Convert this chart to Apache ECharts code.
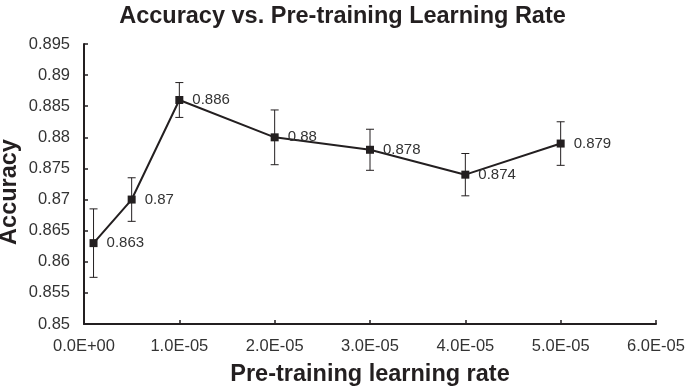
<!DOCTYPE html>
<html>
<head>
<meta charset="UTF-8">
<title>Accuracy vs. Pre-training Learning Rate</title>
<script src="https://cdn.jsdelivr.net/npm/echarts@6/dist/echarts.min.js"></script>
<style>
  html, body { margin: 0; padding: 0; background: #fff; }
  #main { width: 685px; height: 387px; }
</style>
</head>
<body>
<div id="main"></div>
<script>
// learning rates, accuracy and error bar half-widths
const rates = [1e-6, 5e-6, 1e-5, 2e-5, 3e-5, 4e-5, 5e-5];
const accuracy = [0.863, 0.87, 0.886, 0.88, 0.878, 0.874, 0.879];
const errors = [0.0055, 0.0035, 0.0028, 0.0044, 0.0033, 0.0034, 0.0035];

const ink = '#231f20';
const font = 'Liberation Sans, Arial, sans-serif';

function sci(v) {
  if (v === 0) return '0.0E+00';
  const e = Math.floor(Math.log10(Math.abs(v)) + 1e-9);
  const m = v / Math.pow(10, e);
  const sign = e < 0 ? '-' : '+';
  const ee = String(Math.abs(e)).padStart(2, '0');
  return m.toFixed(1) + 'E' + sign + ee;
}

const chart = echarts.init(document.getElementById('main'));

chart.setOption({
  backgroundColor: '#fff',
  animation: false,
  title: {
    text: 'Accuracy vs. Pre-training Learning Rate',
    left: 'center',
    top: 0,
    textStyle: { fontFamily: font, fontSize: 23.5, fontWeight: 'bold', color: ink }
  },
  grid: { left: 84, right: 29, top: 44, bottom: 63, outerBoundsMode: 'none' },
  xAxis: {
    type: 'value',
    min: 0,
    max: 6e-5,
    interval: 1e-5,
    name: 'Pre-training learning rate',
    nameLocation: 'middle',
    nameGap: 39,
    nameMoveOverlap: false,
    nameTextStyle: { fontFamily: font, fontSize: 23.5, fontWeight: 'bold', color: ink },
    axisLine: { show: true, lineStyle: { color: ink, width: 2 } },
    axisTick: { show: true, inside: true, length: 4, lineStyle: { color: ink, width: 1.5 } },
    axisLabel: { formatter: sci, fontFamily: font, fontSize: 16.5, color: '#333', margin: 14 },
    splitLine: { show: false }
  },
  yAxis: {
    type: 'value',
    min: 0.85,
    max: 0.895,
    interval: 0.005,
    name: 'Accuracy',
    nameLocation: 'middle',
    nameGap: 62,
    nameMoveOverlap: false,
    nameTextStyle: {
      fontFamily: font, fontSize: 23.5, fontWeight: 'bold', color: ink,
      padding: [0, 16, 0, 0]
    },
    axisLine: { show: true, lineStyle: { color: ink, width: 2 } },
    axisTick: { show: true, inside: true, length: 4, lineStyle: { color: ink, width: 1.5 } },
    axisLabel: {
      formatter: v => String(parseFloat(v.toFixed(3))),
      fontFamily: font, fontSize: 16.5, color: '#333', margin: 14
    },
    splitLine: { show: false }
  },
  series: [
    {
      type: 'custom',
      data: rates.map((r, i) => [r, accuracy[i] - errors[i], accuracy[i] + errors[i]]),
      renderItem: function (params, api) {
        const lo = api.coord([api.value(0), api.value(1)]);
        const hi = api.coord([api.value(0), api.value(2)]);
        const cap = 4;
        const style = { stroke: ink, lineWidth: 1 };
        return {
          type: 'group',
          children: [
            { type: 'line', shape: { x1: lo[0], y1: lo[1], x2: hi[0], y2: hi[1] }, style },
            { type: 'line', shape: { x1: hi[0] - cap, y1: hi[1], x2: hi[0] + cap, y2: hi[1] }, style },
            { type: 'line', shape: { x1: lo[0] - cap, y1: lo[1], x2: lo[0] + cap, y2: lo[1] }, style }
          ]
        };
      },
      z: 1
    },
    {
      type: 'line',
      data: rates.map((r, i) => [r, accuracy[i]]),
      symbol: 'rect',
      symbolSize: 8,
      lineStyle: { color: ink, width: 2 },
      itemStyle: { color: ink },
      label: {
        show: true,
        position: 'right',
        distance: 9,
        formatter: p => String(p.value[1]),
        fontFamily: font,
        fontSize: 15,
        color: '#333'
      },
      z: 2
    }
  ]
});
</script>
</body>
</html>
